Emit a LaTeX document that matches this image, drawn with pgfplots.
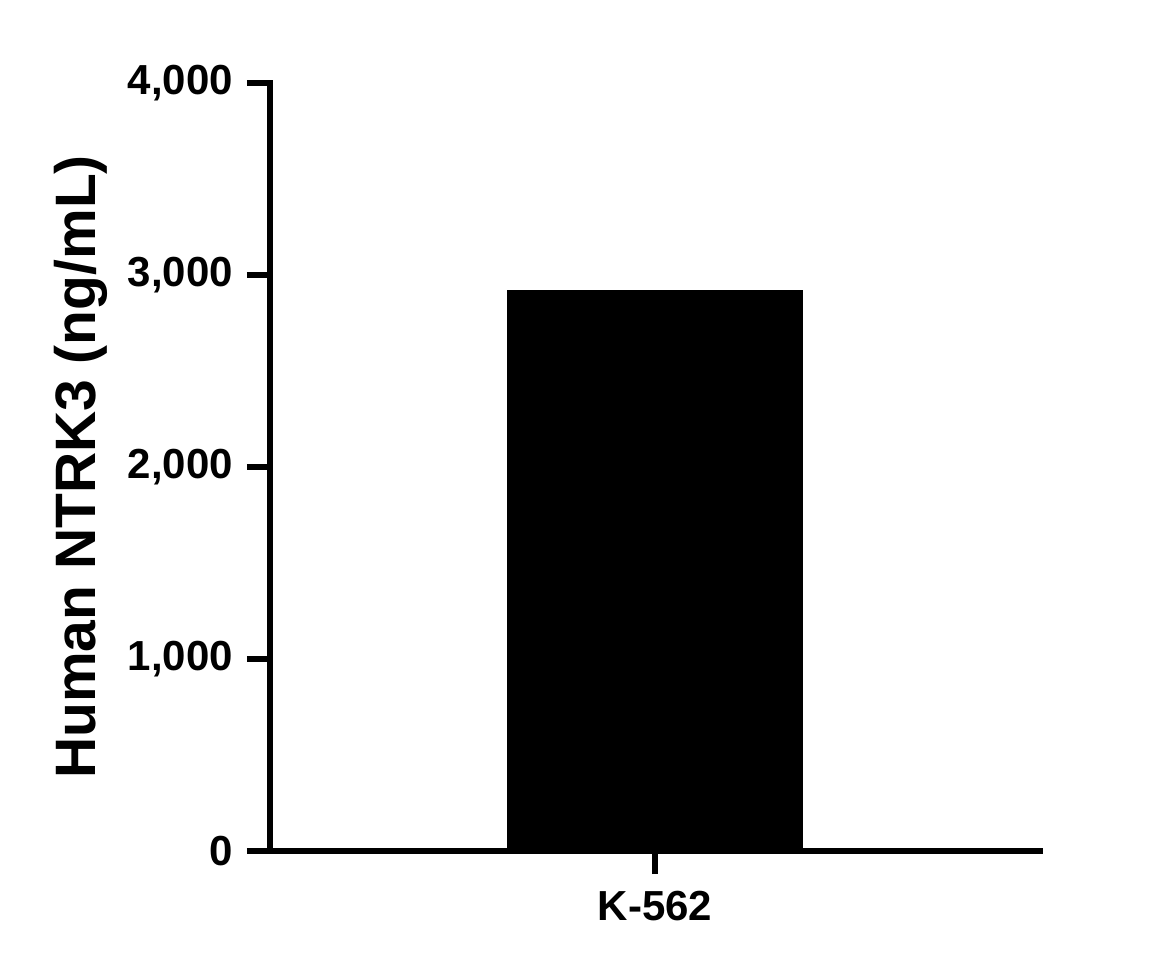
\documentclass[border=0pt]{standalone}
\usepackage{fontspec}
\setmainfont{Liberation Sans}
\usepackage{pgfplots}
\pgfplotsset{compat=1.18}

\begin{document}
\begin{tikzpicture}
% page is 1176x968 px at 0.5pt per px
\useasboundingbox (-135pt,-58.5pt) rectangle (453pt,425.5pt);
\begin{axis}[
    at={(0,0)}, anchor=south west,
    scale only axis,
    width=385pt, height=384pt,
    xmin=-1, xmax=1,
    ymin=0, ymax=4000,
    axis x line*=bottom,
    axis y line*=left,
    axis line style={line width=3pt, -, line cap=rect},
    xtick={0}, xticklabels={K-562},
    ytick={0,1000,2000,3000,4000},
    tick align=outside,
    major tick length=11.5pt,
    every tick/.style={line width=3pt, black},
    /pgf/number format/assume math mode=true,
    /pgf/number format/1000 sep={,},
    ticklabel style={font=\fontsize{21}{25}\selectfont\bfseries},
    yticklabel style={xshift=-3.5pt},
    xticklabel style={yshift=-5pt},
    ylabel={Human NTRK3 (ng/mL)},
    ylabel style={font=\fontsize{28.5}{32}\selectfont\bfseries,
        at={(axis description cs:-0.227,0.5)}, anchor=base, rotate=0},
]
\addplot[ybar, fill=black, draw=none, bar width=0.769] coordinates {(0,2920)};
\end{axis}
\end{tikzpicture}
\end{document}
